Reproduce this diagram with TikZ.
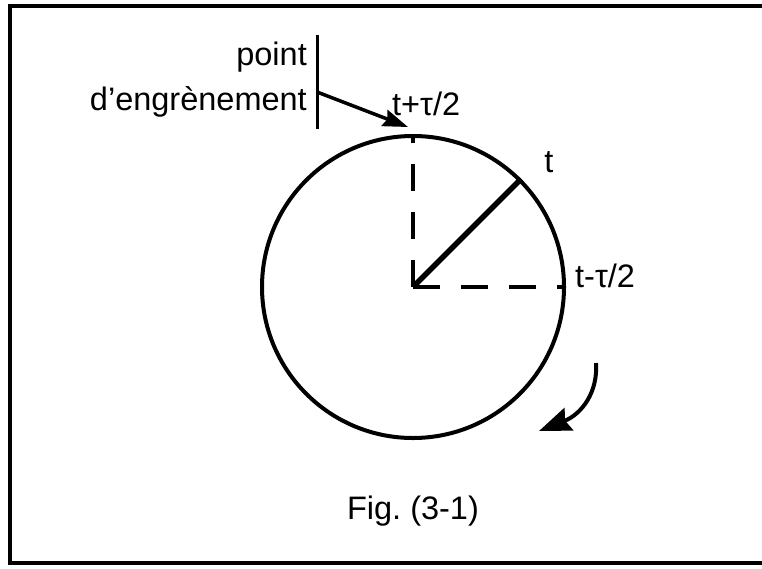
\documentclass[tikz,border=0pt]{standalone}
\usepackage{fontspec}
\setmainfont{Liberation Sans}
\usetikzlibrary{arrows.meta}
\begin{document}
\begin{tikzpicture}[x=1pt,y=-1pt,
  lbl/.style={inner sep=0pt, font=\fontsize{32.5}{38}\selectfont},
  frameline/.style={line width=4pt},
  dashline/.style={line width=4pt, dash pattern=on 27pt off 21pt},
  wheel/.style={circle, draw, line width=4pt, minimum size=302pt, inner sep=0pt}]
\useasboundingbox (0,0) rectangle (762,568);
% frame
\draw[frameline] (9.5,6) rectangle (775,563);
% circle
\node[wheel] (C) at (413,287) {};
% dashed radii
\draw[dashline] (C.center) -- (C.north);
\draw[dashline] (C.center) -- (C.east);
% solid radius
\draw[line width=5.5pt] (C.center) -- (C.45);
% labels
\node[lbl, anchor=base] (t) at (549,172) {t};
\node[lbl, anchor=base west] (tm) at (575,287) {t-τ/2};
\node[lbl, anchor=base west] (tp) at (392,115) {t+τ/2};
\node[lbl, anchor=base east] (pt) at (307,65) {point};
\node[lbl, anchor=base east] (de) at (307,110) {d\char"0027 engrènement};
\node[lbl, anchor=base] (fig) at (413,519) {Fig.\ (3-1)};
% bracket bar and pointer
\coordinate (barTop) at (317,35);
\coordinate (barBot) at (317,129);
\coordinate (barMid) at (317,92);
\coordinate (tipTop) at (408,127);
\draw[line width=3pt] (barTop) -- (barBot);
\draw[line width=3.5pt, -{Stealth[length=25pt,width=17pt,inset=3pt]}] (barMid) -- (tipTop);
% rotation arrow
\coordinate (rotS) at (596,363);
\coordinate (rotE) at (539,431);
\draw[line width=4pt, -{Stealth[length=32pt,width=24pt,inset=4pt]}] (rotS) .. controls (598,392) and (582,414) .. (rotE);
\end{tikzpicture}
\end{document}
